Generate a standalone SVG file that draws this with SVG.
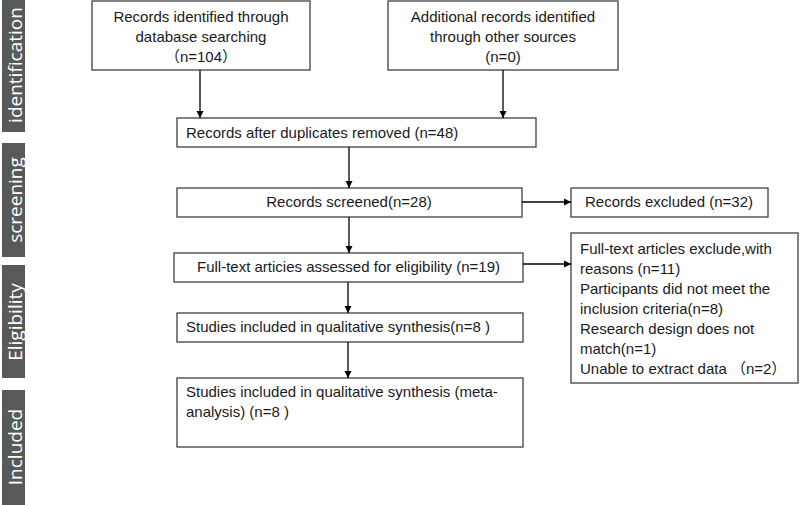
<svg xmlns="http://www.w3.org/2000/svg" width="800" height="505" viewBox="0 0 800 505">
<defs>
<marker id="ah" markerWidth="8" markerHeight="8" refX="7" refY="4" orient="auto" markerUnits="userSpaceOnUse">
<path d="M0,0.5 L7,4 L0,7.5 Z" fill="#000"/>
</marker>
<style>
.box{fill:#fff;stroke:#404040;stroke-width:1.3}
.t{font-family:"Liberation Sans",Arial,"Noto Sans CJK SC",sans-serif;font-size:15px;fill:#1a1a1a}
.c{text-anchor:middle}
.bar{fill:#595959}
.bt{font-family:"Open Sans","Liberation Sans",sans-serif;font-size:19px;fill:#fff;text-anchor:middle}
.ln{stroke:#000;stroke-width:1.3;fill:none;marker-end:url(#ah)}
</style>
</defs>
<rect width="800" height="505" fill="#fff"/>
<g id="side-labels">
<rect class="bar" x="2" y="0" width="23" height="132"/>
<text class="bt" transform="translate(21.5,65) rotate(-90)">identification</text>
<rect class="bar" x="2" y="143" width="23" height="114"/>
<text class="bt" transform="translate(21.5,200) rotate(-90)">screening</text>
<rect class="bar" x="2" y="265" width="23" height="113"/>
<text class="bt" transform="translate(21.5,322) rotate(-90)">Eligibility</text>
<rect class="bar" x="2" y="390" width="23" height="115"/>
<text class="bt" transform="translate(21.5,447) rotate(-90)">Included</text>
</g>
<g id="n1">
<rect class="box" x="92" y="1" width="218" height="69"/>
<text class="t c" x="201" y="22">Records identified through</text>
<text class="t c" x="201" y="42">database searching</text>
<text class="t c" x="201" y="62">（n=104）</text>
</g>
<g id="n2">
<rect class="box" x="388" y="1" width="230" height="69"/>
<text class="t c" x="503" y="22">Additional records identified</text>
<text class="t c" x="503" y="42">through other sources</text>
<text class="t c" x="503" y="62">(n=0)</text>
</g>
<g id="n3">
<rect class="box" x="177" y="118" width="359" height="29"/>
<text class="t" x="186" y="138">Records after duplicates removed (n=48)</text>
</g>
<g id="n4">
<rect class="box" x="177" y="188" width="345" height="29"/>
<text class="t c" x="349" y="207">Records screened(n=28)</text>
</g>
<g id="n5">
<rect class="box" x="571" y="188" width="197" height="29"/>
<text class="t c" x="669" y="207">Records excluded (n=32)</text>
</g>
<g id="n6">
<rect class="box" x="174" y="253" width="349" height="29"/>
<text class="t" x="197" y="272">Full-text articies assessed for eligibility (n=19)</text>
</g>
<g id="n7">
<rect class="box" x="571" y="233" width="227" height="150"/>
<text class="t" x="580" y="254">Full-text articles exclude,with</text>
<text class="t" x="580" y="274">reasons (n=11)</text>
<text class="t" x="580" y="294">Participants did not meet the</text>
<text class="t" x="580" y="314">inclusion criteria(n=8)</text>
<text class="t" x="580" y="334">Research design does not</text>
<text class="t" x="580" y="354">match(n=1)</text>
<text class="t" x="580" y="374">Unable to extract data （n=2）</text>
</g>
<g id="n8">
<rect class="box" x="177" y="313" width="346" height="29"/>
<text class="t" x="186" y="332">Studies included in qualitative synthesis(n=8 )</text>
</g>
<g id="n9">
<rect class="box" x="177" y="378" width="346" height="69"/>
<text class="t" x="186" y="397">Studies included in qualitative synthesis (meta-</text>
<text class="t" x="186" y="417">analysis) (n=8 )</text>
</g>
<g id="connectors">
<line class="ln" x1="200" y1="70" x2="200" y2="118"/>
<line class="ln" x1="503" y1="70" x2="503" y2="118"/>
<line class="ln" x1="349" y1="147" x2="349" y2="188"/>
<line class="ln" x1="349" y1="217" x2="349" y2="253"/>
<line class="ln" x1="522" y1="202" x2="571" y2="202"/>
<line class="ln" x1="523" y1="264" x2="571" y2="264"/>
<line class="ln" x1="348" y1="282" x2="348" y2="313"/>
<line class="ln" x1="348" y1="342" x2="348" y2="378"/>
</g>
</svg>
